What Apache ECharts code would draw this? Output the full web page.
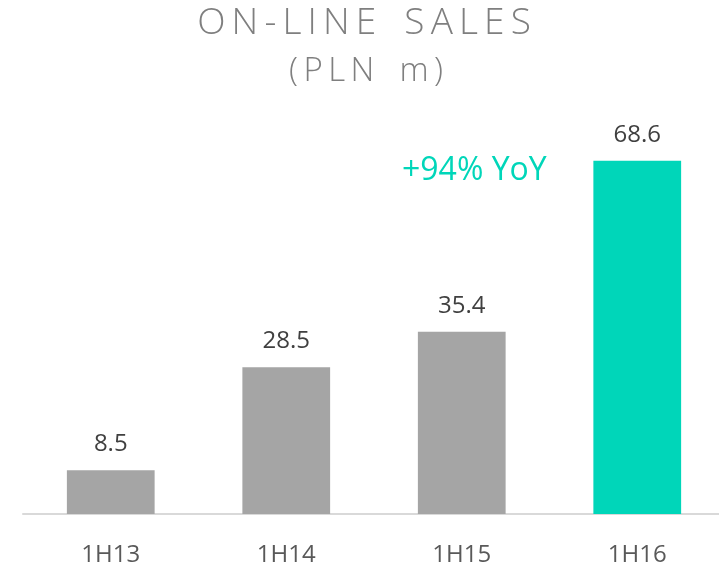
<!DOCTYPE html>
<html>
<head>
<meta charset="utf-8">
<script src="https://cdn.jsdelivr.net/npm/echarts@6/dist/echarts.min.js"></script>
<style>
  html, body { margin: 0; padding: 0; background: #fff; }
  #chart { width: 719px; height: 564px; }
</style>
</head>
<body>
<div id="chart"></div>
<script>
// chart data
var periods = ['1H13', '1H14', '1H15', '1H16'];
var sales = [8.5, 28.5, 35.4, 68.6];
var highlight = '1H16';
var yoyNote = '+94% YoY';

var grey = '#a5a5a5';
var teal = '#00d6b9';

// spread letters out with thin spaces, like the slide heading
function spaced(s) {
    return s.split('').map(function (c) { return c == ' ' ? ' \u2009' : c; }).join('\u2009');
}

var myChart = echarts.init(document.getElementById('chart'));

var option = {
    animation: false,
    textStyle: { fontFamily: 'Open Sans' },
    title: [
        {
            text: spaced('ON-LINE SALES'),
            left: 359,
            top: 0,
            textAlign: 'center',
            textStyle: { color: '#7f7f7f', fontSize: 37, fontWeight: 300, fontFamily: 'Open Sans' }
        },
        {
            text: spaced('(PLN m)'),
            left: 361,
            top: 50,
            textAlign: 'center',
            textStyle: { color: '#7f7f7f', fontSize: 33, fontWeight: 300, fontFamily: 'Open Sans' }
        }
    ],
    grid: { left: 23, width: 702, top: 102, bottom: 50, outerBoundsMode: 'none' },
    xAxis: {
        type: 'category',
        data: periods,
        axisLine: { lineStyle: { color: '#d9d9d9', width: 2 } },
        axisTick: { show: false },
        axisLabel: { color: '#595959', fontSize: 24, margin: 29 }
    },
    yAxis: {
        type: 'value',
        min: 0,
        max: 80,
        show: false
    },
    graphic: [
        {
            type: 'text',
            left: 402,
            top: 155,
            style: { text: yoyNote, fill: teal, fontSize: 32, fontFamily: 'Open Sans' }
        }
    ],
    series: [
        {
            type: 'bar',
            barWidth: '50%',
            data: sales.map(function (v, i) {
                return {
                    value: v,
                    itemStyle: { color: periods[i] == highlight ? teal : grey }
                };
            }),
            label: {
                show: true,
                position: 'top',
                distance: 14,
                color: '#404040',
                fontSize: 24
            }
        }
    ]
};

option && myChart.setOption(option);
</script>
</body>
</html>
